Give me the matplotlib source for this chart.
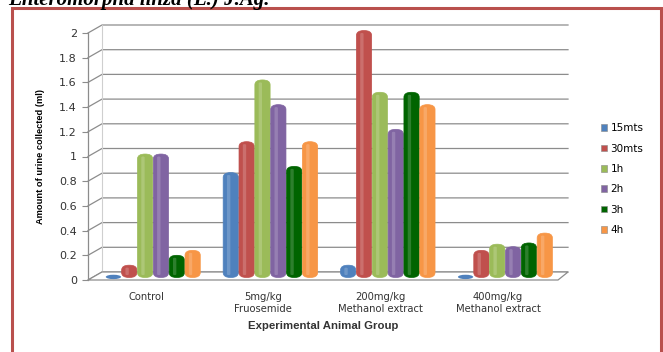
import numpy as np
import matplotlib.pyplot as plt
from matplotlib.patches import FancyBboxPatch, Rectangle, Polygon, Ellipse

# data
groups = ["Control", "5mg/kg\nFruosemide", "200mg/kg\nMethanol extract", "400mg/kg\nMethanol extract"]
series = ["15mts", "30mts", "1h", "2h", "3h", "4h"]
v_15mts = [0.01, 0.85, 0.10, 0.01]
v_30mts = [0.10, 1.10, 2.00, 0.22]
v_1h = [1.00, 1.60, 1.50, 0.27]
v_2h = [1.00, 1.40, 1.20, 0.25]
v_3h = [0.18, 0.90, 1.50, 0.28]
v_4h = [0.22, 1.10, 1.40, 0.36]
values = [v_15mts, v_30mts, v_1h, v_2h, v_3h, v_4h]
colors = ["#4F81BD", "#C0504D", "#9BBB59", "#8064A2", "#006400", "#F79646"]
yticks = [0, 0.2, 0.4, 0.6, 0.8, 1, 1.2, 1.4, 1.6, 1.8, 2]

plt.rcParams['font.family'] = ['DejaVu Sans']

W, H = 663, 352
fig = plt.figure(figsize=(W / 100, H / 100), dpi=100)

# red frame and the clipped caption line above it
fig.patches.append(Rectangle((12 / W, -0.05), (661 - 12) / W, (1.05 - 8 / H),
                             transform=fig.transFigure, fill=False,
                             edgecolor="#B9504D", linewidth=2.2))
fig.text(8 / W, 1 - 5 / H, "Enteromorpha linza (L.) J.Ag.", family="Liberation Serif",
         fontsize=15, fontweight="bold", fontstyle="italic", va="baseline", ha="left")

ax = fig.add_axes([88 / W, 1 - 280 / H, 470 / W, 247 / H])
xmin, xmax = -0.554, 3.45
ax.set_xlim(xmin, xmax)
ax.set_ylim(0, 2)
for s in ax.spines.values():
    s.set_visible(False)
ax.patch.set_visible(False)

# 3d-ish walls: pixel offsets converted to data units
px_x = 470 / (xmax - xmin)
px_y = 247 / 2
dx, dy = 14 / px_x, 8 / px_y
xback = xmax + 10 / px_x
for v in yticks:
    ax.plot([xmin, xmin + dx, xback], [v, v + dy, v + dy], color="#8c8c8c",
            lw=0.9, clip_on=False, zorder=1)
ax.plot([xmin, xmin], [0, 2], color="#8c8c8c", lw=0.9, clip_on=False, zorder=1)
ax.plot([xmin + dx, xmin + dx], [dy, 2 + dy], color="#cfcfcf", lw=0.8, clip_on=False, zorder=1)
floor = Polygon([[xmin, 0], [xmax, 0], [xback, dy], [xmin + dx, dy]], closed=True,
                facecolor="white", edgecolor="#8c8c8c", lw=0.9, clip_on=False, zorder=1.5)
ax.add_patch(floor)

x = np.arange(len(groups))
bw = 0.13
handles = []
for i, (vals, c, name) in enumerate(zip(values, colors, series)):
    pos = x + (i - 2.5) * 0.135
    bars = ax.bar(pos, vals, bw, color=c)
    for r in bars:
        r.set_visible(False)
        bx, bh = r.get_x(), r.get_height()
        if bh < 0.05:
            ax.add_patch(Ellipse((bx + bw / 2, 0.025), bw, 0.035, facecolor=c, lw=0,
                                 zorder=3, clip_on=False))
            continue
        cap = FancyBboxPatch((bx, 0.02), bw, bh, boxstyle=f"round,pad=0,rounding_size={bw / 2}",
                             mutation_aspect=0.6, facecolor=c, edgecolor=c, lw=0.5,
                             zorder=3, clip_on=False)
        ax.add_patch(cap)
        # soft highlight strip
        hl = FancyBboxPatch((bx + bw * 0.25, 0.04), bw * 0.22, bh - 0.04,
                            boxstyle=f"round,pad=0,rounding_size={bw * 0.1}", mutation_aspect=0.6,
                            facecolor="white", alpha=0.18, lw=0, zorder=4, clip_on=False)
        ax.add_patch(hl)
    handles.append(Rectangle((0, 0), 1, 1, facecolor=c, edgecolor="#888888", lw=0.4, label=name))

ax.set_yticks(yticks)
ax.set_yticklabels(["0", "0.2", "0.4", "0.6", "0.8", "1", "1.2", "1.4", "1.6", "1.8", "2"])
ax.tick_params(axis="y", direction="out", length=4, width=0.8, color="#8c8c8c",
               labelsize=8, labelcolor="#333333", pad=4)
ax.set_xticks(x - 0.06)
ax.set_xticklabels(groups)
ax.tick_params(axis="x", length=0, labelsize=7.2, labelcolor="#333333", pad=9)

ax.set_ylabel("Amount of urine collected (ml)", family="Liberation Sans", fontsize=6.7,
              fontweight="bold", labelpad=10)
ax.set_xlabel("Experimental Animal Group", family="Liberation Sans", fontsize=8.2,
              fontweight="bold", color="#333333", labelpad=5)

ax.legend(handles=handles, loc="upper left", bbox_to_anchor=(597 / W, 1 - 119 / H),
          bbox_transform=fig.transFigure, frameon=False, fontsize=7.5, handlelength=0.6,
          handleheight=0.6, handletextpad=0.3, labelspacing=1.0, borderaxespad=0)

fig.savefig("out.png", dpi=100)
